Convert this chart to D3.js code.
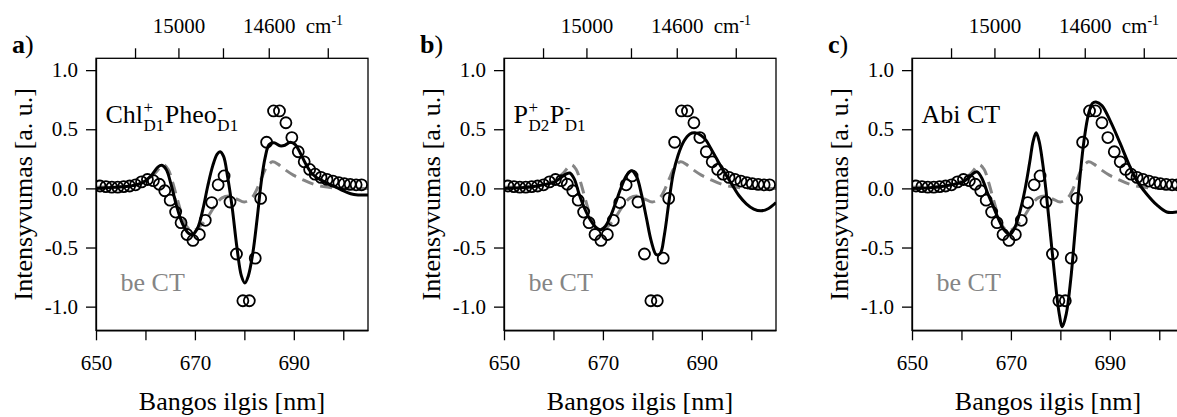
<!DOCTYPE html>
<html>
<head>
<meta charset="utf-8">
<script src="https://cdn.jsdelivr.net/npm/d3@7"></script>
<style>
  body { margin: 0; background: #fff; }
  svg { display: block; font-family: "Liberation Serif", "Times New Roman", serif; }
</style>
</head>
<body>
<script>
// measured points (circles), same in every panel
var expPoints = [[650.8,0.02],[652.0,0.015],[653.2,0.01],[654.4,0.01],[655.6,0.015],[656.8,0.02],
  [658.0,0.03],[659.2,0.055],[660.4,0.075],[661.6,0.065],[662.8,0.035],[663.9,-0.02],[665.0,-0.1],
  [666.1,-0.2],[667.2,-0.29],[668.4,-0.39],[669.6,-0.44],[670.9,-0.39],[672.1,-0.27],[673.4,-0.12],
  [674.7,0.03],[675.9,0.105],[677.1,-0.115],[678.4,-0.555],[679.7,-0.95],[681.0,-0.95],[682.2,-0.59],
  [683.3,-0.085],[684.5,0.39],[685.9,0.655],[687.1,0.655],[688.4,0.555],[689.6,0.43],[690.9,0.31],
  [692.1,0.225],[693.2,0.16],[694.3,0.12],[695.5,0.093],[696.7,0.076],[697.9,0.062],[699.1,0.048],
  [700.2,0.04],[701.4,0.034],[702.6,0.03],[703.7,0.03]];

// "be CT" model (grey dashes), same in every panel
var beCt = [[650,0.01],[655,0.015],[658,0.03],[660,0.06],[662,0.13],[663.6,0.2],[664.6,0.16],
  [665.5,0.05],[666.5,-0.1],[667.5,-0.24],[668.5,-0.33],[669.5,-0.36],[670.5,-0.34],[671.5,-0.3],
  [672.5,-0.25],[674,-0.15],[675.5,-0.08],[677,-0.065],[678.5,-0.09],[680,-0.115],[681.5,-0.08],
  [682.5,-0.01],[683.5,0.09],[684.5,0.18],[685.7,0.225],[686.8,0.205],[688,0.165],[690,0.11],
  [692,0.07],[694,0.035],[696,0.015],[698,0.005],[700,0],[705,0]];

// solid models, one per panel
var chlPheo = [[650,0],[654,0.01],[657,0.02],[659,0.04],[661,0.1],[662.5,0.18],[663.3,0.195],
  [664.2,0.16],[665.2,0.03],[666.3,-0.15],[667.5,-0.3],[668.7,-0.38],[669.6,-0.39],[670.6,-0.33],
  [671.6,-0.18],[672.6,0.02],[673.6,0.19],[674.5,0.29],[675.1,0.31],[675.8,0.27],[676.6,0.1],
  [677.5,-0.15],[678.5,-0.5],[679.4,-0.74],[680.1,-0.8],[680.8,-0.74],[681.7,-0.55],[682.6,-0.25],
  [683.4,0.05],[684.2,0.26],[685,0.37],[686,0.385],[687.2,0.36],[688.2,0.365],[689.3,0.39],
  [690.3,0.37],[691.3,0.3],[692.5,0.2],[693.8,0.12],[695.5,0.07],[697.5,0.03],[699.5,-0.01],
  [701.5,-0.045],[703,-0.055],[705,-0.055]];

var pd2pd1 = [[650,0],[655,0.01],[658,0.03],[660,0.05],[661.5,0.09],[662.5,0.12],[663.3,0.13],
  [664.2,0.08],[665.2,-0.05],[666.3,-0.17],[667.5,-0.27],[668.6,-0.33],[669.5,-0.35],[670.5,-0.32],
  [671.5,-0.24],[672.6,-0.12],[673.7,0.01],[674.8,0.11],[675.8,0.15],[676.8,0.1],[677.8,-0.05],
  [678.8,-0.25],[679.8,-0.45],[680.8,-0.56],[681.6,-0.55],[682.4,-0.4],[683.3,-0.13],[684.2,0.12],
  [685.2,0.28],[686.4,0.4],[687.6,0.46],[688.6,0.47],[689.8,0.45],[690.8,0.41],[691.8,0.34],
  [693,0.25],[694.5,0.14],[696,0.04],[697.5,-0.06],[699,-0.13],[700.5,-0.175],[702,-0.19],
  [703.5,-0.17],[705,-0.12]];

var abiCt = [[650,0],[655,0.01],[658,0.03],[660,0.05],[661.5,0.09],[662.5,0.13],[663.2,0.14],
  [664.2,0.08],[665.2,-0.03],[666.3,-0.14],[667.5,-0.26],[668.6,-0.35],[669.8,-0.39],[670.8,-0.33],
  [671.8,-0.2],[672.8,-0.02],[673.8,0.22],[674.5,0.4],[675.1,0.47],[675.7,0.4],[676.4,0.22],
  [677.1,-0.02],[677.9,-0.35],[678.8,-0.72],[679.7,-1.04],[680.4,-1.17],[681.2,-1.06],[682.1,-0.77],
  [683,-0.35],[683.9,0.07],[684.8,0.41],[685.7,0.63],[686.5,0.72],[687.2,0.73],[688.4,0.7],
  [690.2,0.56],[692.1,0.38],[693.8,0.21],[695.4,0.07],[697.4,-0.045],[699.5,-0.14],[701.5,-0.2],
  [703.5,-0.2],[705,-0.19]];

var panelLetters = ['a', 'b', 'c'];
var modelSeries = [chlPheo, pd2pd1, abiCt];
var modelLabels = [
  [{t:'Chl'}, {sup:'+', sub:'D1'}, {t:'Pheo'}, {sup:'-', sub:'D1'}],
  [{t:'P'}, {sup:'+', sub:'D2'}, {t:'P'}, {sup:'-', sub:'D1'}],
  [{t:'Abi CT'}]
];

var nmTicks = [650, 660, 670, 680, 690, 700];
var nmLabelled = [650, 670, 690];
var wnTicks = [15200, 15000, 14800, 14600, 14350];
var wnLabelled = [15000, 14600];
var yTicks = [-1, -0.5, 0, 0.5, 1];

const WIDTH = 1177;
const HEIGHT = 417;
const PANEL_LEFT = [96, 504, 912];
const TOP = 58.3;
const W = 272;
const H = 272;
const FONT = '"Liberation Serif", "Times New Roman", serif';
const GREY = '#858585';

var xScale = d3.scaleLinear().domain([650, 705]).range([0, W]);
var yScale = d3.scaleLinear().domain([-1.2, 1.1]).range([H, 0]);

var line = d3.line()
  .x(function(d){ return xScale(d[0]); })
  .y(function(d){ return yScale(d[1]); })
  .curve(d3.curveCatmullRom.alpha(0.5));

var translate = function(x, y){ return 'translate(' + x + ',' + y + ')'; };

var styleAxis = function(g){
  g.attr('font-family', FONT).attr('font-size', 21);
  g.selectAll('path, line').attr('stroke', '#000').attr('stroke-width', 1.3);
  g.selectAll('text').attr('fill', '#000');
};

// text with stacked super/subscripts, measured as we go
var richLabel = function(g, x, y, parts){
  var cx = x;
  parts.forEach(function(p){
    if (p.t) {
      var t = g.append('text').attr('x', cx).attr('y', y).attr('font-size', 26).text(p.t);
      cx += t.node().getComputedTextLength();
    } else {
      var s = g.append('text').attr('x', cx + 0.5).attr('y', y - 10).attr('font-size', 17).text(p.sup);
      var b = g.append('text').attr('x', cx + 0.5).attr('y', y + 8).attr('font-size', 17).text(p.sub);
      cx += Math.max(s.node().getComputedTextLength(), b.node().getComputedTextLength()) + 1;
    }
  });
};

var svg = d3.select('body').append('svg')
  .attr('width', WIDTH).attr('height', HEIGHT)
  .attr('font-family', FONT);

var drawPanel = function(i){
  var left = PANEL_LEFT[i];
  var g = svg.append('g').attr('transform', translate(left, TOP));

  g.append('clipPath').attr('id', 'clip' + i)
    .append('rect').attr('width', W).attr('height', H);

  var plot = g.append('g').attr('clip-path', 'url(#clip' + i + ')');

  plot.append('path')
    .attr('d', line(beCt))
    .attr('fill', 'none').attr('stroke', GREY)
    .attr('stroke-width', 3).attr('stroke-dasharray', '12,7');

  plot.append('path')
    .attr('d', line(modelSeries[i]))
    .attr('fill', 'none').attr('stroke', '#000').attr('stroke-width', 3);

  plot.selectAll('circle')
    .data(expPoints)
    .enter()
    .append('circle')
    .attr('cx', function(d){ return xScale(d[0]); })
    .attr('cy', function(d){ return yScale(d[1]); })
    .attr('r', 5.5)
    .attr('fill', 'none').attr('stroke', '#000').attr('stroke-width', 1.8);

  // frame
  g.append('rect').attr('width', W).attr('height', H)
    .attr('fill', 'none').attr('stroke', '#000').attr('stroke-width', 1.3);

  var xAxis = d3.axisBottom(xScale)
    .tickValues(nmTicks)
    .tickFormat(function(d){ return nmLabelled.indexOf(d) >= 0 ? d : ''; })
    .tickSize(10).tickSizeOuter(0).tickPadding(15);
  g.append('g').attr('transform', translate(0, H)).call(xAxis).call(styleAxis);

  var yAxis = d3.axisLeft(yScale)
    .tickValues(yTicks)
    .tickFormat(function(d){ return d.toFixed(1); })
    .tickSize(10).tickSizeOuter(0).tickPadding(8);
  g.append('g').call(yAxis).call(styleAxis);

  var topAxis = d3.axisTop(xScale)
    .tickValues(wnTicks.map(function(w){ return 1e7 / w; }))
    .tickFormat(function(d){
      var w = Math.round(1e7 / d);
      return wnLabelled.indexOf(w) >= 0 ? w : '';
    })
    .tickSize(10).tickSizeOuter(0).tickPadding(15);
  var ta = g.append('g').call(topAxis).call(styleAxis);
  ta.select('.domain').remove();

  var unit = g.append('text')
    .attr('x', xScale(1e7 / 14600) + 37).attr('y', -25)
    .attr('font-size', 21);
  unit.append('tspan').text('cm');
  unit.append('tspan').attr('font-size', 14).attr('dy', -8).text('-1');

  // panel letter
  var letter = svg.append('text')
    .attr('x', left - 84).attr('y', 53).attr('font-size', 26);
  letter.append('tspan').attr('font-weight', 'bold').text(panelLetters[i]);
  letter.append('tspan').text(')');

  // axis titles
  svg.append('text')
    .attr('transform', translate(left - 64, TOP + H / 2) + ' rotate(-90)')
    .attr('text-anchor', 'middle').attr('font-size', 26)
    .text('Intensyvumas [a. u.]');

  svg.append('text')
    .attr('x', left + W / 2).attr('y', 410)
    .attr('text-anchor', 'middle').attr('font-size', 26)
    .text('Bangos ilgis [nm]');

  richLabel(g, 9.5, 65, modelLabels[i]);

  g.append('text')
    .attr('x', 24.5).attr('y', 232.5)
    .attr('font-size', 26).attr('fill', GREY)
    .text('be CT');
};

var renderChart = function(){
  [0, 1, 2].forEach(drawPanel);
};

window.onload = renderChart;
</script>
</body>
</html>
